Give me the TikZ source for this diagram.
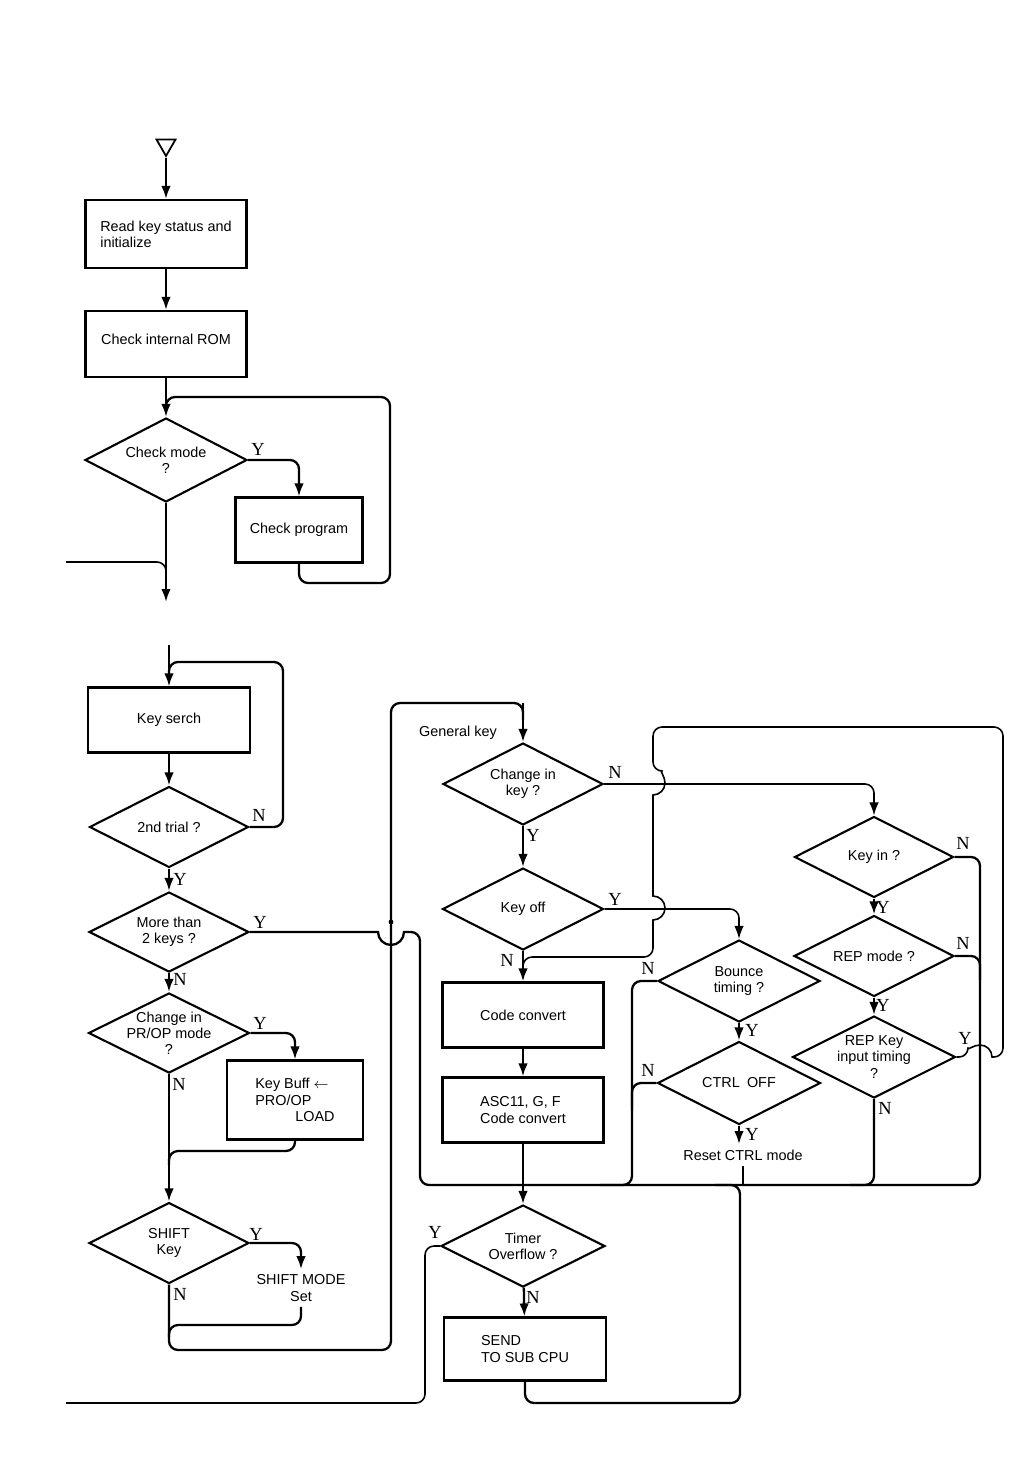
\documentclass[tikz,border=0pt]{standalone}
\usepackage{fontspec}
\setmainfont{Liberation Sans}
\newfontfamily\ynfont{Liberation Serif}
\usetikzlibrary{arrows.meta,shapes.geometric}

\tikzset{
  box/.style={draw, rectangle, line width=1.2pt, align=left,
    font=\fontsize{8.2}{9.2}\selectfont},
  dec/.style={draw, diamond, aspect=2, inner sep=-5mm, line width=1.2pt,
    align=center, font=\fontsize{8.2}{9.2}\selectfont},
  txt/.style={align=center, inner sep=3pt, font=\fontsize{8.2}{9.2}\selectfont},
  yn/.style={inner sep=0pt, font=\ynfont\fontsize{10.5}{10.5}\selectfont},
  flow/.style={line width=1.3pt, rounded corners=1.8mm},
  thinflow/.style={line width=0.9pt, rounded corners=1.8mm},
  go/.style={-{Latex[length=2.6mm,width=1.9mm]}}
}

\begin{document}
\begin{tikzpicture}[x=0.2mm,y=-0.2mm]
\useasboundingbox (0,0) rectangle (1008,1479);

% first part: start, init and mode check
\node[draw, regular polygon, regular polygon sides=3, shape border rotate=180,
  minimum size=4.4mm, inner sep=0pt, line width=1pt] (start) at (166,145) {};
\node[box, minimum width=32.2mm, minimum height=13.6mm] (read) at (166,234) {Read key status and\\initialize};
\node[box, minimum width=32.2mm, minimum height=13.2mm, text depth=2mm] (rom) at (166,344) {Check internal ROM};
\node[dec, minimum width=32.4mm, minimum height=16.8mm] (mode) at (166,460) {Check mode\\?};
\node[box, minimum width=25.4mm, minimum height=13mm] (prog) at (299,530) {Check program};
\coordinate (in1) at (66,562);
\coordinate (out1) at (166,602);

\draw[flow,go] (start.corner 1) -- (read.north);
\draw[flow,go] (read) -- (rom);
\draw[flow,go] (rom.south) -- (mode.north);
\draw[flow,go] (mode.east) -| (prog.north);
\draw[flow] (prog.south) -- (299,583) -- (390,583) -- (390,397) -- (166,397) -- (166,410);
\draw[flow,go] (mode.south) -- (out1);
\draw[thinflow] (in1) -- (166,562) -- (166,585);
\node[yn] (modeY) at (258,449) {Y};

% second part: key search
\coordinate (in2) at (169,645);
\node[box, minimum width=32.4mm, minimum height=13mm] (serch) at (169,720) {Key serch};
\node[dec, minimum width=31.8mm, minimum height=16.2mm] (trial) at (169,827) {2nd trial ?};
\node[dec, minimum width=32mm, minimum height=16mm] (more) at (169,932) {More than\\2 keys ?};
\node[dec, minimum width=32.2mm, minimum height=16mm] (prop) at (169,1033) {Change in\\PR/OP mode\\?};
\node[box, minimum width=27.2mm, minimum height=15.8mm] (buff) at (295,1100) {Key Buff $\leftarrow$\\PRO/OP\\\hspace*{8mm}LOAD};
\node[dec, minimum width=32mm, minimum height=16.2mm] (shift) at (169,1243) {SHIFT\\Key};
\node[txt] (smode) at (301,1288) {SHIFT MODE\\Set};

\draw[flow,go] (in2) -- (serch);
\draw[flow] (trial.east) -- (283,827) -- (283,662) -- (169,662) -- (169,675);
\draw[flow,go] (serch) -- (trial);
\draw[flow,go] (trial) -- (more);
\draw[flow,go] (more) -- (prop);
\draw[flow,go] (prop.east) -| (buff.north);
\draw[flow] (buff.south) -- (295,1151) -- (169,1151) -- (169,1165);
\draw[flow,go] (prop) -- (shift);
\draw[flow,go] (shift.east) -| (smode.north);
\draw[flow] (smode.south) -- (301,1325) -- (169,1325) -- (169,1337);
\draw[flow] (shift.south) -- (169,1350) -- (391,1350) -- (391,703) -- (523,703) -- (523,720);
\fill (391,922) circle[radius=2.4];

% the Y branch of "More than 2 keys" hops over the return line
\draw[flow] (more.east) [sharp corners] -- (378,932) arc[start angle=180, end angle=0, radius=13]
  [rounded corners=1.8mm] -- (420,932) -- (420,1185) -- (523,1185);

\node[yn] (trialN) at (259,815) {N};
\node[yn] (trialY) at (180,879) {Y};
\node[yn] (moreY) at (260,922) {Y};
\node[yn] (moreN) at (180,979) {N};
\node[yn] (propY) at (260,1023) {Y};
\node[yn] (propN) at (179,1084) {N};
\node[yn] (shiftY) at (256,1234) {Y};
\node[yn] (shiftN) at (180,1294) {N};

% general key column
\node[txt] (genkey) at (458,733) {General key};
\node[dec, minimum width=32mm, minimum height=16.4mm] (chg) at (523,784) {Change in\\key ?};
\node[dec, minimum width=32.2mm, minimum height=16.4mm] (koff) at (523,909) {Key off};
\node[box, minimum width=32.2mm, minimum height=13mm] (conv) at (523,1015) {Code convert};
\node[box, minimum width=32.2mm, minimum height=13mm] (asc) at (523,1110) {ASC11, G, F\\Code convert};
\node[dec, minimum width=32.8mm, minimum height=16.4mm] (timer) at (523,1246) {Timer\\Overflow ?};
\node[box, minimum width=32.4mm, minimum height=12.6mm] (send) at (525,1349) {SEND\\TO SUB CPU};

\draw[flow,go] (523,703) -- (chg.north);
\draw[flow,go] (chg) -- (koff);
\draw[flow,go] (koff) -- (conv);
\draw[flow,go] (conv) -- (asc);
\draw[flow,go] (asc) -- (timer);
\draw[flow,go] (timer) -- (send);
\draw[flow] (send.south) -- (525,1403) -- (740,1403) -- (740,1185) -- (715,1185);
\draw[thinflow] (timer.west) -- (425,1246) -- (425,1403) -- (66,1403);

\node[yn] (chgN) at (615,772) {N};
\node[yn] (chgY) at (533,835) {Y};
\node[yn] (koffY) at (615,899) {Y};
\node[yn] (koffN) at (507,960) {N};
\node[yn] (timerY) at (435,1232) {Y};
\node[yn] (timerN) at (533,1297) {N};

% bounce and CTRL checks
\node[dec, minimum width=32.4mm, minimum height=16.4mm] (bounce) at (739,981) {Bounce\\timing ?};
\node[dec, minimum width=32.6mm, minimum height=16.6mm] (ctrl) at (739,1083) {CTRL\enspace OFF};
\node[txt] (reset) at (743,1155) {Reset CTRL mode};
\coordinate (bus) at (600,1185);

\draw[thinflow,go] (koff.east) -| (bounce.north);
\draw[flow,go] (bounce) -- (ctrl);
\draw[flow,go] (ctrl.south) -- (ctrl.south |- reset.north);
\draw[flow] (reset.south) -- (reset.south |- bus);
\draw[flow] (bounce.west) -- (632,981) -- (632,1185) -- (600,1185);
\draw[flow] (ctrl.west) -- (632,1083) -- (632,1110);

\node[yn] (bounceN) at (648,968) {N};
\node[yn] (bounceY) at (752,1030) {Y};
\node[yn] (ctrlN) at (648,1070) {N};
\node[yn] (ctrlY) at (752,1134) {Y};

% repeat key checks
\node[dec, minimum width=31.8mm, minimum height=16.2mm] (keyin) at (874,857) {Key in ?};
\node[dec, minimum width=32mm, minimum height=16.2mm] (rep) at (874,956) {REP mode ?};
\node[dec, minimum width=32.6mm, minimum height=16.4mm] (repkey) at (874,1057) {REP Key\\input timing\\?};

\draw[thinflow,go] (chg.east) -| (keyin.north);
\draw[flow,go] (keyin) -- (rep);
\draw[flow,go] (rep) -- (repkey);
\draw[flow] (keyin.east) -- (980,857) -- (980,1185) -- (523,1185);
\draw[flow] (rep.east) -- (980,956) -- (980,980);
\draw[flow] (repkey.south) -- (874,1185) -- (850,1185);

% the REP key loop back to code convert, with hops
\draw[thinflow] (repkey.east) -- (968,1057) [sharp corners] arc[start angle=180, end angle=360, radius=12]
  [rounded corners=1.8mm] -- (1003,1057) -- (1003,727) -- (653,727) -- (653,771)
  [sharp corners] arc[start angle=-90, end angle=90, radius=12] -- (653,896)
  arc[start angle=-90, end angle=90, radius=12]
  [rounded corners=1.8mm] -- (653,957) -- (523,957) -- (523,975);

\node[yn] (keyinN) at (963,843) {N};
\node[yn] (keyinY) at (883,907) {Y};
\node[yn] (repN) at (963,943) {N};
\node[yn] (repY) at (883,1005) {Y};
\node[yn] (repkeyY) at (965,1038) {Y};
\node[yn] (repkeyN) at (885,1108) {N};
\end{tikzpicture}
\end{document}
